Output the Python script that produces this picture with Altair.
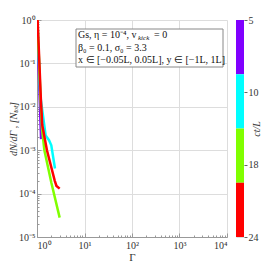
import altair as alt
import pandas as pd

# ---- data ----
series_t = ["5", "10", "18", "24"]
series_colors = ["#8000ff", "#00ffff", "#80ff00", "#ff0000"]

purple_g = [1.0, 1.22]
purple_v = [1.0, 1.8e-3]
cyan_g = [1.02, 1.17, 1.52, 1.79, 2.0, 2.39]
cyan_v = [1.0, 1.86e-2, 2.2e-3, 1.7e-3, 1.3e-3, 3.8e-4]
green_g = [1.02, 1.2, 1.27, 1.43, 2.0, 3.0]
green_v = [1.0, 1.2e-2, 3.2e-3, 1.0e-3, 1.8e-4, 2.8e-5]
red_g = [1.03, 1.21, 1.29, 1.62, 2.36, 2.57, 3.0]
red_v = [1.0, 1.4e-2, 3.8e-3, 1.0e-3, 2.0e-4, 1.5e-4, 1.3e-4]

x_major = [1, 10, 100, 1000, 10000]
y_major = [1e-5, 1e-4, 1e-3, 1e-2, 1e-1, 1]
cb_ticks = [5, 10, 18, 24]

ann_line1a = "Gs, η = 10⁻⁴, v"
ann_line1b = "kick"
ann_line1c = "= 0"
ann_line2 = "β₀ = 0.1, σ₀ = 3.3"
ann_line3 = "x ∈ [−0.05L, 0.05L], y ∈ [−1L, 1L]"

# ---- build tables ----
all_g = [purple_g, cyan_g, green_g, red_g]
all_v = [purple_v, cyan_v, green_v, red_v]
frames = []
for s, g, v in zip(series_t, all_g, all_v):
    frames.append(pd.DataFrame({"g": g, "v": v, "s": s}))
df = pd.concat(frames, ignore_index=True)

x_minor = [k * 10 ** e for e in range(0, 4) for k in range(2, 10)]
y_minor = [k * 10.0 ** e for e in range(-5, 0) for k in range(2, 10)]

W, H = 190, 217
FONT = "Liberation Serif"
xs = alt.Scale(type="log", domain=[1, 1e4], nice=False)
ys = alt.Scale(type="log", domain=[1e-5, 1], nice=False)

E = "round(abs(log(datum.value)/LN10))"
sup = "(" + ":".join(f"{E}=={i}?'{c}'" for i, c in enumerate("⁰¹²³⁴")) + ":'⁵')"
label_expr = "'10' + (datum.value < 0.5 ? '⁻' : '') + " + sup
major_test = "abs(log(datum.value)/LN10 - round(log(datum.value)/LN10)) < 0.001"

axis_layer = alt.Chart(df).mark_line(opacity=0).encode(
    x=alt.X("g:Q", scale=xs, axis=alt.Axis(
        orient="bottom", values=x_major, ticks=False, labelExpr=label_expr,
        title="Γ", labelFontSize=10, titleFontSize=11, labelPadding=3,
        titlePadding=1, domainColor="#999", labelColor="#333", labelFont=FONT, titleFont=FONT,
        titleFontWeight="normal", titleColor="#333")),
    y=alt.Y("v:Q", scale=ys, axis=alt.Axis(
        orient="left", values=y_major, ticks=False, labelExpr=label_expr,
        title="dN/dΓ , [Nₜₒₜ]", labelFontSize=10, titleFontSize=10, labelPadding=2,
        titlePadding=0, domainColor="#999", labelColor="#333", labelFont=FONT, titleFont=FONT,
        titleFontWeight="normal", titleColor="#333", titleFontStyle="italic")),
    detail="s:N",
)

tick_layer = alt.Chart(df).mark_line(opacity=0).encode(
    x=alt.X("g:Q", scale=xs, axis=alt.Axis(
        orient="top", offset=-H, values=x_major + x_minor, labels=False, domain=False,
        title=None, tickColor="#999",
        tickSize={"condition": {"test": major_test, "value": 4}, "value": 2})),
    y=alt.Y("v:Q", scale=ys, axis=alt.Axis(
        orient="right", offset=-W, values=y_major + y_minor, labels=False, domain=False,
        title=None, tickColor="#999",
        tickSize={"condition": {"test": major_test, "value": 4}, "value": 2})),
    detail="s:N",
)

line_layers = []
for s, c in zip(series_t, series_colors):
    line_layers.append(
        alt.Chart(df[df.s == s]).mark_line(color=c, strokeWidth=2.5, clip=True).encode(
            x=alt.X("g:Q", scale=xs, axis=None),
            y=alt.Y("v:Q", scale=ys, axis=None),
        )
    )

ann_df = pd.DataFrame({"t": [""]})
box = alt.Chart(ann_df).mark_rect(fill="white", stroke="#888", strokeWidth=1).encode(
    x=alt.value(39), x2=alt.value(186), y=alt.value(9), y2=alt.value(47))


def txt(t, x, y, size=10, style="normal"):
    return alt.Chart(pd.DataFrame({"t": [t]})).mark_text(
        align="left", baseline="middle", font=FONT, fontSize=size, color="#111",
        fontStyle=style
    ).encode(text="t:N", x=alt.value(x), y=alt.value(y))


texts = [
    txt(ann_line1a, 41, 15),
    txt(ann_line1b, 101, 17.5, 7, "italic"),
    txt(ann_line1c, 117, 15),
    txt(ann_line2, 41, 27.5),
    txt(ann_line3, 41, 39.5),
]

main = alt.layer(axis_layer, tick_layer, *line_layers, box, *texts).resolve_axis(
    x="independent", y="independent").properties(width=W, height=H)

cb_df = pd.DataFrame({
    "y0": [0, 0.75, 1.5, 2.25],
    "y1": [0.75, 1.5, 2.25, 3.0],
    "c": series_colors,
})
cb_expr = ":".join(f"datum.value=={i}?'{v}'" for i, v in enumerate(cb_ticks[:-1])) + f":'{cb_ticks[-1]}'"
cb = alt.Chart(cb_df).mark_rect().encode(
    y=alt.Y("y0:Q", scale=alt.Scale(domain=[0, 3], reverse=True, nice=False), axis=alt.Axis(
        orient="right", values=[0, 1, 2, 3], labelExpr=cb_expr, title="ct/L",
        titleAngle=270, titleFontStyle="italic", titleFontWeight="normal", titleFont=FONT,
        labelFont=FONT, labelFontSize=10, titleFontSize=10, domain=False, tickSize=3,
        tickColor="#666", labelColor="#333", titleColor="#333", labelPadding=1, titlePadding=3)),
    y2="y1:Q",
    color=alt.Color("c:N", scale=None),
    x=alt.value(0), x2=alt.value(8),
).properties(width=8, height=H)

chart = alt.hconcat(main, cb, spacing=8).properties(
    padding={"left": 0, "top": 7, "right": 0, "bottom": 0}
).configure_view(stroke=None)

chart.save("out.html", embed_options={"renderer": "svg", "actions": False})
